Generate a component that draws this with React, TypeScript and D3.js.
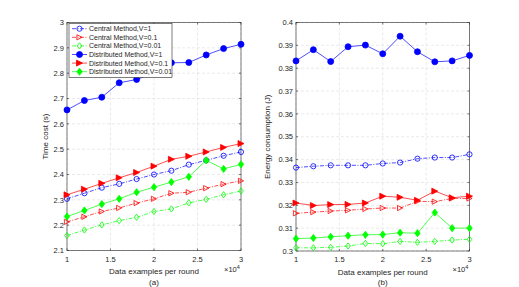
import React from "react";
import * as d3 from "d3";

// x values (x10^4)
const xs = [1, 1.2, 1.4, 1.6, 1.8, 2, 2.2, 2.4, 2.6, 2.8, 3];

// (a) time cost
const timeCentralV1 = [2.304, 2.326, 2.348, 2.363, 2.382, 2.4, 2.415, 2.439, 2.456, 2.474, 2.489];
const timeCentralV01 = [2.213, 2.233, 2.254, 2.268, 2.287, 2.304, 2.326, 2.33, 2.346, 2.362, 2.375];
const timeCentralV001 = [2.159, 2.181, 2.201, 2.218, 2.231, 2.254, 2.264, 2.288, 2.302, 2.32, 2.335];
const timeDistV1 = [2.655, 2.692, 2.705, 2.762, 2.775, 2.8, 2.841, 2.842, 2.872, 2.897, 2.914];
const timeDistV01 = [2.32, 2.342, 2.365, 2.387, 2.408, 2.433, 2.46, 2.472, 2.489, 2.507, 2.522];
const timeDistV001 = [2.234, 2.258, 2.283, 2.304, 2.33, 2.35, 2.37, 2.391, 2.456, 2.422, 2.44];

// (b) energy consumption
const energyCentralV1 = [0.3365, 0.3371, 0.3375, 0.3375, 0.3375, 0.3383, 0.3387, 0.3404, 0.3409, 0.3409, 0.3423];
const energyCentralV01 = [0.3165, 0.317, 0.3175, 0.3178, 0.3184, 0.3188, 0.3188, 0.3217, 0.3216, 0.323, 0.323];
const energyCentralV001 = [0.3014, 0.3014, 0.3016, 0.3022, 0.3033, 0.3032, 0.3042, 0.3038, 0.3042, 0.3048, 0.3051];
const energyDistV1 = [0.3832, 0.3881, 0.3829, 0.3894, 0.3901, 0.3863, 0.394, 0.3872, 0.3828, 0.3832, 0.3856];
const energyDistV01 = [0.321, 0.3199, 0.3203, 0.3204, 0.321, 0.324, 0.3235, 0.3222, 0.3262, 0.3233, 0.324];
const energyDistV001 = [0.3054, 0.3057, 0.3062, 0.3067, 0.3071, 0.3072, 0.308, 0.3078, 0.3168, 0.31, 0.31];

const xTicks = [1, 1.5, 2, 2.5, 3];
const timeTicks = [2.1, 2.2, 2.3, 2.4, 2.5, 2.6, 2.7, 2.8, 2.9, 3];
const energyTicks = [0.3, 0.31, 0.32, 0.33, 0.34, 0.35, 0.36, 0.37, 0.38, 0.39, 0.4];

const legendLabels = [
  "Central Method,V=1",
  "Central Method,V=0.1",
  "Central Method,V=0.01",
  "Distributed Method,V=1",
  "Distributed Method,V=0.1",
  "Distributed Method,V=0.01",
];

const styles = [
  { color: "#0000ff", marker: "circle", filled: false, dash: "4,1.5,1,1.5" },
  { color: "#ff0000", marker: "tri", filled: false, dash: "4,1.5,1,1.5" },
  { color: "#00ff00", marker: "diamond", filled: false, dash: "4,1.5,1,1.5" },
  { color: "#0000ff", marker: "circle", filled: true, dash: "" },
  { color: "#ff0000", marker: "tri", filled: true, dash: "" },
  { color: "#00ff00", marker: "diamond", filled: true, dash: "" },
];

const font = "'Liberation Sans', Arial, sans-serif";
const textColor = "#262626";

const Marker = ({ x, y, s }: any) => {
  const fill = s.filled ? s.color : "none";
  const r = s.filled ? 3 : 2.6;
  if (s.marker === "circle") {
    return <circle cx={x} cy={y} r={r} fill={fill} stroke={s.color} strokeWidth={0.8} />;
  }
  if (s.marker === "tri") {
    const p = `${x + r},${y} ${x - r},${y - r} ${x - r},${y + r}`;
    return <polygon points={p} fill={fill} stroke={s.color} strokeWidth={0.8} />;
  }
  const p = `${x},${y - r * 1.2} ${x + r * 0.9},${y} ${x},${y + r * 1.2} ${x - r * 0.9},${y}`;
  return <polygon points={p} fill={fill} stroke={s.color} strokeWidth={0.8} />;
};

const Panel = ({ left, right, top, bottom, yDomain, yTicks, yFmt, series, yLabel, labelOff, sub, legend }: any) => {
  const x = d3.scaleLinear().domain([1, 3]).range([left, right]);
  const y = d3.scaleLinear().domain(yDomain).range([bottom, top]);
  const line = d3
    .line<number>()
    .x((_, i) => x(xs[i]))
    .y((d) => y(d));
  const midX = (left + right) / 2;
  return (
    <g fontFamily={font}>
      <rect x={left} y={top} width={right - left} height={bottom - top} fill="white" />
      {xTicks.map((t) => (
        <line key={"gx" + t} x1={x(t)} x2={x(t)} y1={top} y2={bottom} stroke="#dcdcdc" strokeWidth={0.6} strokeDasharray="3,2" />
      ))}
      {yTicks.map((t: number) => (
        <line key={"gy" + t} x1={left} x2={right} y1={y(t)} y2={y(t)} stroke="#dcdcdc" strokeWidth={0.6} strokeDasharray="3,2" />
      ))}
      <rect x={left} y={top} width={right - left} height={bottom - top} fill="none" stroke="#262626" strokeWidth={0.6} />
      {xTicks.map((t) => (
        <g key={"tx" + t}>
          <line x1={x(t)} x2={x(t)} y1={bottom} y2={bottom - 2} stroke="#262626" strokeWidth={0.6} />
          <line x1={x(t)} x2={x(t)} y1={top} y2={top + 2} stroke="#262626" strokeWidth={0.6} />
          <text x={x(t)} y={bottom + 11} fontSize={7.5} fill={textColor} textAnchor="middle">
            {t}
          </text>
        </g>
      ))}
      {yTicks.map((t: number) => (
        <g key={"ty" + t}>
          <line x1={left} x2={left + 2} y1={y(t)} y2={y(t)} stroke="#262626" strokeWidth={0.6} />
          <line x1={right} x2={right - 2} y1={y(t)} y2={y(t)} stroke="#262626" strokeWidth={0.6} />
          <text x={left - 3} y={y(t) + 2.7} fontSize={7.5} fill={textColor} textAnchor="end">
            {yFmt(t)}
          </text>
        </g>
      ))}
      {series.map((vals: number[], k: number) => (
        <g key={"s" + k}>
          <path d={line(vals) || ""} fill="none" stroke={styles[k].color} strokeWidth={0.7} strokeDasharray={styles[k].dash} />
          {vals.map((v, i) => (
            <Marker key={i} x={x(xs[i])} y={y(v)} s={styles[k]} />
          ))}
        </g>
      ))}
      <text x={midX} y={bottom + 23.5} fontSize={8} fill={textColor} textAnchor="middle">
        Data examples per round
      </text>
      <text x={midX} y={bottom + 34} fontSize={8} fill={textColor} textAnchor="middle">
        {sub}
      </text>
      <text x={right - 17} y={bottom + 21} fontSize={7.5} fill={textColor}>
        ×10
        <tspan fontSize={5.5} dy={-3}>
          4
        </tspan>
      </text>
      <text
        transform={`translate(${left - labelOff},${(top + bottom) / 2}) rotate(-90)`}
        fontSize={8}
        fill={textColor}
        textAnchor="middle"
      >
        {yLabel}
      </text>
      {legend && (
        <g>
          <rect x={69} y={23.5} width={103} height={54} fill="white" stroke="#262626" strokeWidth={0.6} />
          {legendLabels.map((lab, k) => {
            const ly = 28.7 + k * 8.6;
            return (
              <g key={lab}>
                <line x1={72} x2={87} y1={ly} y2={ly} stroke={styles[k].color} strokeWidth={0.7} strokeDasharray={styles[k].dash} />
                <Marker x={79.5} y={ly} s={styles[k]} />
                <text x={89} y={ly + 2.5} fontSize={7} fill={textColor}>
                  {lab}
                </text>
              </g>
            );
          })}
        </g>
      )}
    </g>
  );
};

const App = () => {
  return (
    <svg width={519} height={287} style={{ position: "absolute", left: 0, top: 0, background: "white" }}>
      <rect width={519} height={287} fill="white" />
      <Panel
        left={67}
        right={241}
        top={22.5}
        bottom={250.5}
        yDomain={[2.1, 3]}
        yTicks={timeTicks}
        yFmt={(t: number) => String(+t.toFixed(1))}
        series={[timeCentralV1, timeCentralV01, timeCentralV001, timeDistV1, timeDistV01, timeDistV001]}
        yLabel="Time cost (s)"
        labelOff={19}
        sub="(a)"
        legend={true}
      />
      <Panel
        left={296}
        right={469.5}
        top={22.5}
        bottom={251}
        yDomain={[0.3, 0.4]}
        yTicks={energyTicks}
        yFmt={(t: number) => String(+t.toFixed(2))}
        series={[energyCentralV1, energyCentralV01, energyCentralV001, energyDistV1, energyDistV01, energyDistV001]}
        yLabel="Energy consumption (J)"
        labelOff={26}
        sub="(b)"
        legend={false}
      />
    </svg>
  );
};

export default App;
